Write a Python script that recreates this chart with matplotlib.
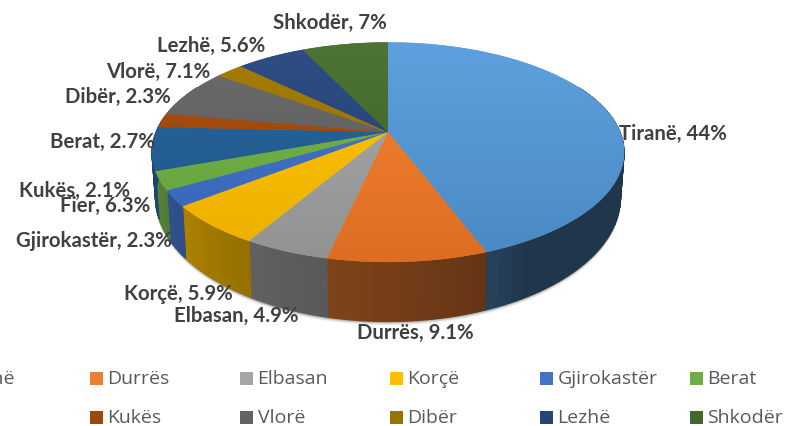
import numpy as np
import matplotlib
matplotlib.use("Agg")
import matplotlib.pyplot as plt
from matplotlib.patches import Polygon, Rectangle
from matplotlib.colors import to_rgb

categories = ["Tiranë", "Durrës", "Elbasan", "Korçë", "Gjirokastër", "Berat",
              "Fier", "Kukës", "Vlorë", "Dibër", "Lezhë", "Shkodër"]
values = [44, 9.1, 4.9, 5.9, 2.3, 2.7, 6.3, 2.1, 7.1, 2.3, 5.6, 7]
colors = ["#5B9BD5", "#ED7D31", "#A5A5A5", "#FFC000", "#4472C4", "#70AD47",
          "#255E91", "#9E480E", "#636363", "#997300", "#264478", "#43682B"]
value_texts = ["44", "9.1", "4.9", "5.9", "2.3", "2.7", "6.3", "2.1", "7.1", "2.3", "5.6", "7"]
# label centres, in figure pixels
label_pos = [(673, 134), (415, 333), (236, 316), (178, 294), (94, 241), (103, 142),
             (105, 206), (75, 191), (158, 72), (118, 97), (211, 46), (330, 23)]

W, H = 790, 427
fig = plt.figure(figsize=(W / 100, H / 100), dpi=100)
ax = fig.add_axes([0, 0, 1, 1])
ax.set_axis_off()

CX, CY, A, B, K = 388, 133, 232, 106, 0.184


def rim(t):
    u, v = np.sin(t), np.cos(t)
    w = 1 + K * v
    return CX + A * u / w, CY - B * v / w, w


def lower(t):
    x, y, w = rim(t)
    return CX + (x - CX) * 0.985, y + 43 / w ** 1.6


def wall_factor(deg):
    return np.interp(deg % 360, [0, 80, 150, 158, 190, 215, 250, 290, 360],
                     [.36, .35, .35, .42, .53, .60, .76, .70, .5])


def saturate(c, s=1.12):
    g = c.mean()
    return np.clip(g + (c - g) * s, 0, 1)


total = sum(values)
edges = np.concatenate([[0], np.cumsum(values)]) / total * 2 * np.pi

# soft shadow under the body
ts = np.linspace(np.radians(60), np.radians(300), 200)
lx, ly = lower(ts)
rx_back = rim(ts[::-1])[0]
ry_back = rim(ts[::-1])[1]
for off, al in [(4, .06), (3, .10), (2, .16), (1, .25)]:
    xs = np.concatenate([lx, rx_back])
    ys = np.concatenate([ly + off, ry_back])
    ax.add_patch(Polygon(np.c_[xs, ys], closed=True, fc="#303030", ec="none", alpha=al, zorder=1))

# side walls, painted as thin strips so the shading can vary around the rim
for i, col in enumerate(colors):
    n = max(int(np.degrees(edges[i + 1] - edges[i]) / 1.5), 1)
    tt = np.linspace(edges[i], edges[i + 1], n + 1)
    base = np.array(to_rgb(col))
    for a, b in zip(tt[:-1], tt[1:]):
        if np.cos((a + b) / 2) > 0.45:
            continue
        x1, y1, _ = rim(np.array([a, b]))
        x2, y2 = lower(np.array([a, b]))
        f = wall_factor(np.degrees((a + b) / 2))
        c = np.clip(base * f, 0, 1)
        ax.add_patch(Polygon([(x1[0], y1[0]), (x1[1], y1[1]), (x2[1], y2[1]), (x2[0], y2[0])],
                             closed=True, fc=c, ec=c, lw=0.9, zorder=2))

# top face, one gradient image per slice clipped to the slice outline
grad_y = np.linspace(0, 1, 256)[:, None]
for i, col in enumerate(colors):
    base = np.array(to_rgb(col))
    tt = np.linspace(edges[i], edges[i + 1], 120)
    x, y, _ = rim(tt)
    pts = np.vstack([[CX, CY], np.c_[x, y]])
    poly = Polygon(pts, closed=True, fc=col, ec=col, lw=0.3, zorder=3)
    ax.add_patch(poly)
    top = saturate(base * 0.94 + 0.06)
    bottom = saturate(base * 0.88)
    img = (top[None, None, :] * (1 - grad_y[..., None]) + bottom[None, None, :] * grad_y[..., None])
    im = ax.imshow(img, extent=(140, 640, 270, 38), aspect="auto", zorder=3.5,
                   interpolation="bilinear")
    im.set_clip_path(poly)

ax.set_xlim(0, W)
ax.set_ylim(H, 0)

# data labels
for cat, txt, (px, py) in zip(categories, value_texts, label_pos):
    ax.text(px, py, f"{cat}, {txt}%", ha="center", va="center", fontsize=14.7,
            family="Lato", fontweight="bold", color="#404040", zorder=5)

# legend in two rows of six; the first column falls off the left edge
col_x = [-60, 90, 240, 390, 540, 690]
row_y = [379.5, 418.5]
for i, (cat, col) in enumerate(zip(categories, colors)):
    r = i // 6
    c = i % 6
    ax.add_patch(Rectangle((col_x[c], row_y[r] - 6.5), 12.5, 13, fc=col, ec="none", zorder=5))
    ax.text(col_x[c] + 17.5, row_y[r], cat, ha="left", va="center", fontsize=14,
            family="Open Sans", color="#595959", zorder=5, clip_on=True)

fig.savefig("out.png", dpi=100, facecolor="white")
